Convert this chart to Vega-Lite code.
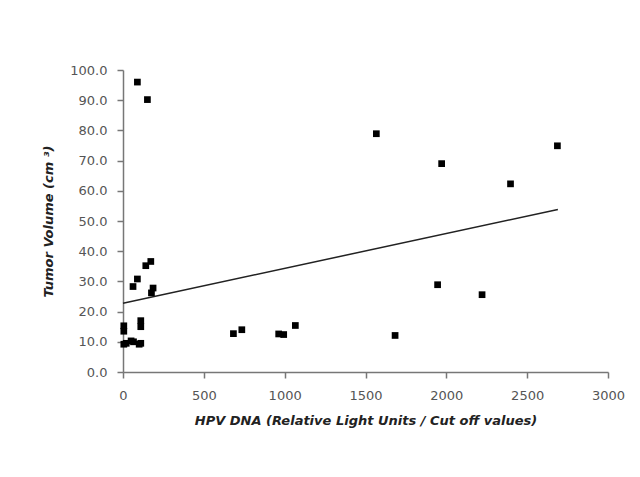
{
  "$schema": "https://vega.github.io/schema/vega-lite/v6.json",
  "autosize": {"type": "none"},
  "width": 485,
  "height": 302,
  "padding": {"left": 123, "top": 70, "right": 32, "bottom": 105},
  "background": "white",
  "config": {
    "view": {"stroke": null},
    "font": "DejaVu Sans",
    "axis": {"labelOverlap": false}
  },
  "datasets": {
    "points": [
      {"hpv": 5, "vol": 15.3}, {"hpv": 5, "vol": 13.5}, {"hpv": 5, "vol": 9.2},
      {"hpv": 20, "vol": 9.5}, {"hpv": 50, "vol": 10.3}, {"hpv": 65, "vol": 10.0},
      {"hpv": 100, "vol": 9.2}, {"hpv": 110, "vol": 9.5},
      {"hpv": 110, "vol": 17.0}, {"hpv": 110, "vol": 15.0},
      {"hpv": 62, "vol": 28.3}, {"hpv": 89, "vol": 30.8}, {"hpv": 141, "vol": 35.2},
      {"hpv": 172, "vol": 36.6}, {"hpv": 176, "vol": 26.2}, {"hpv": 186, "vol": 27.8},
      {"hpv": 89, "vol": 96.0}, {"hpv": 151, "vol": 90.2},
      {"hpv": 683, "vol": 12.7}, {"hpv": 735, "vol": 14.0}, {"hpv": 963, "vol": 12.6},
      {"hpv": 994, "vol": 12.4}, {"hpv": 1066, "vol": 15.4},
      {"hpv": 1567, "vol": 78.9}, {"hpv": 1683, "vol": 12.1}, {"hpv": 1946, "vol": 28.9},
      {"hpv": 1971, "vol": 69.0}, {"hpv": 2221, "vol": 25.6}, {"hpv": 2397, "vol": 62.3},
      {"hpv": 2687, "vol": 74.9}
    ],
    "trend": [
      {"hpv": 0, "vol": 22.8},
      {"hpv": 2690, "vol": 53.8}
    ]
  },
  "encoding": {
    "x": {
      "field": "hpv", "type": "quantitative",
      "scale": {"domain": [0, 3000], "nice": false},
      "axis": {
        "values": [0, 500, 1000, 1500, 2000, 2500, 3000],
        "format": "d",
        "labelOverlap": false,
        "title": "HPV DNA (Relative Light Units / Cut off values)",
        "grid": false,
        "domainColor": "#777", "domainWidth": 1.5,
        "tickColor": "#777", "tickSize": 6, "tickWidth": 1.5,
        "labelFont": "DejaVu Sans", "labelFontSize": 13, "labelColor": "#555",
        "labelPadding": 11, "labelFlush": false,
        "titleFont": "DejaVu Sans", "titleFontSize": 13, "titleFontWeight": "bold",
        "titleFontStyle": "italic", "titleColor": "#222", "titlePadding": 12
      }
    },
    "y": {
      "field": "vol", "type": "quantitative",
      "scale": {"domain": [0, 100], "nice": false},
      "axis": {
        "values": [0, 10, 20, 30, 40, 50, 60, 70, 80, 90, 100],
        "format": ".1f",
        "labelOverlap": false,
        "title": "Tumor Volume (cm ³)",
        "grid": false,
        "domainColor": "#777", "domainWidth": 1.5,
        "tickColor": "#777", "tickSize": 6, "tickWidth": 1.5,
        "labelFont": "DejaVu Sans", "labelFontSize": 13, "labelColor": "#555",
        "labelPadding": 10, "labelFlush": false,
        "titleFont": "DejaVu Sans", "titleFontSize": 13, "titleFontWeight": "bold",
        "titleFontStyle": "italic", "titleColor": "#222", "titlePadding": 14
      }
    }
  },
  "layer": [
    {
      "data": {"name": "trend"},
      "mark": {"type": "line", "color": "#222", "strokeWidth": 1.5}
    },
    {
      "data": {"name": "points"},
      "mark": {"type": "point", "shape": "square", "filled": true, "color": "black", "opacity": 1, "size": 45}
    }
  ]
}
